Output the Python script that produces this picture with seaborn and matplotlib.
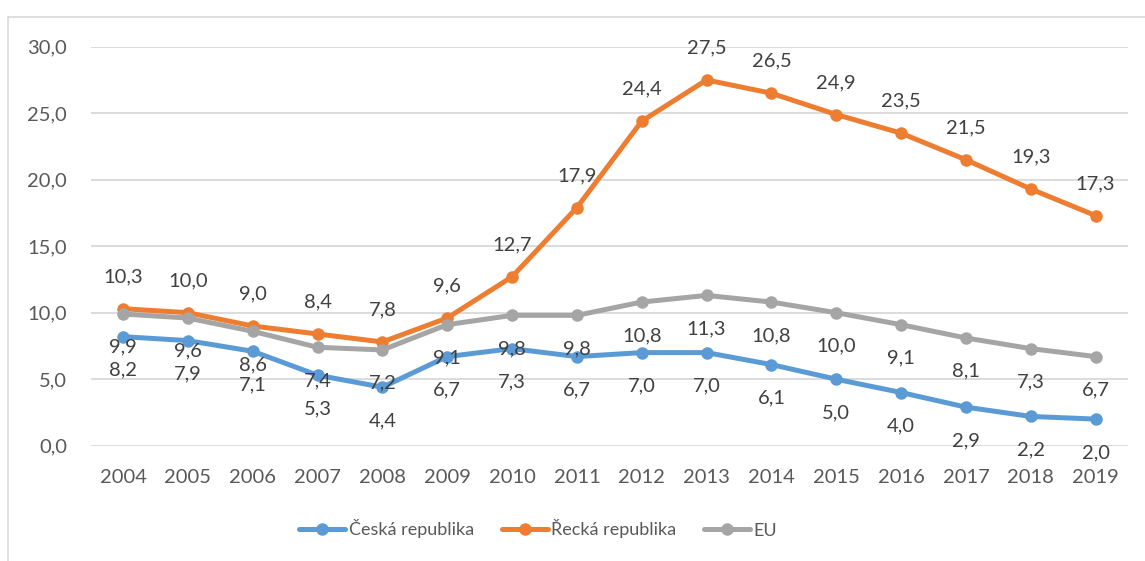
import matplotlib
matplotlib.use("Agg")
import matplotlib.pyplot as plt
import seaborn as sns
import pandas as pd
from matplotlib.patches import Rectangle

years = list(range(2004, 2020))
cz = [8.2, 7.9, 7.1, 5.3, 4.4, 6.7, 7.3, 6.7, 7.0, 7.0, 6.1, 5.0, 4.0, 2.9, 2.2, 2.0]
gr = [10.3, 10.0, 9.0, 8.4, 7.8, 9.6, 12.7, 17.9, 24.4, 27.5, 26.5, 24.9, 23.5, 21.5, 19.3, 17.3]
eu = [9.9, 9.6, 8.6, 7.4, 7.2, 9.1, 9.8, 9.8, 10.8, 11.3, 10.8, 10.0, 9.1, 8.1, 7.3, 6.7]
series_names = ["Česká republika", "Řecká republika", "EU"]
y_ticks = [0, 5, 10, 15, 20, 25, 30]

colors = {"Česká republika": "#5B9BD5", "Řecká republika": "#ED7D31", "EU": "#A5A5A5"}
label_pos = {"Česká republika": -24, "Řecká republika": 23, "EU": -24}

sns.set_style("white")
plt.rcParams["font.family"] = ["Lato", "DejaVu Sans"]
TXT = "#595959"
FS = 14.5
LFS = 13

fig = plt.figure(figsize=(11.45, 5.61), dpi=100)
ax = fig.add_axes([90.6 / 1145, 1 - 445.7 / 561, (1128 - 90.6) / 1145, (445.7 - 46.7) / 561])

# chart frame (Excel style)
fig.patches.append(Rectangle((8 / 1145, -0.2), 1.2, 0.2 + (561 - 17) / 561,
                             transform=fig.transFigure, fill=False,
                             edgecolor="#D9D9D9", linewidth=1.2, zorder=0))

data = {"Česká republika": cz, "Řecká republika": gr, "EU": eu}
for name in series_names:
    df = pd.DataFrame({"year": years, "value": data[name]})
    sns.lineplot(data=df, x="year", y="value", ax=ax, color=colors[name],
                 linewidth=3.6, marker="o", markersize=9, markeredgewidth=0,
                 label=name, zorder=3)

for name in series_names:
    for x, v in zip(years, data[name]):
        ax.annotate(f"{v:.1f}".replace(".", ","), (x, v), xytext=(0, label_pos[name]),
                    textcoords="offset points", ha="center", va="center",
                    fontsize=FS, color="#404040", zorder=6)

ax.set_xlim(2003.5, 2019.5)
ax.set_ylim(0, 30)
ax.set_xticks(years)
ax.set_xticklabels([str(y) for y in years])
ax.set_yticks(y_ticks)
ax.set_yticklabels([f"{t:.1f}".replace(".", ",") for t in y_ticks])
ax.tick_params(axis="both", length=0, labelsize=FS, labelcolor=TXT)
ax.tick_params(axis="y", pad=17)
ax.tick_params(axis="x", pad=17)
ax.set_xlabel("")
ax.set_ylabel("")
ax.grid(axis="y", color="#D9D9D9", linewidth=1.3)
ax.set_axisbelow(True)
for s in ax.spines.values():
    s.set_visible(False)

handles, labels = ax.get_legend_handles_labels()
ax.legend(handles, labels, loc="center", bbox_to_anchor=(538 / 1145, 32 / 561),
          bbox_transform=fig.transFigure, ncol=3, frameon=False, fontsize=LFS,
          labelcolor=TXT, handlelength=2.55, handletextpad=0.17, columnspacing=1.55,
          markerscale=1.0)

fig.savefig("out.png", dpi=100, facecolor="white")
